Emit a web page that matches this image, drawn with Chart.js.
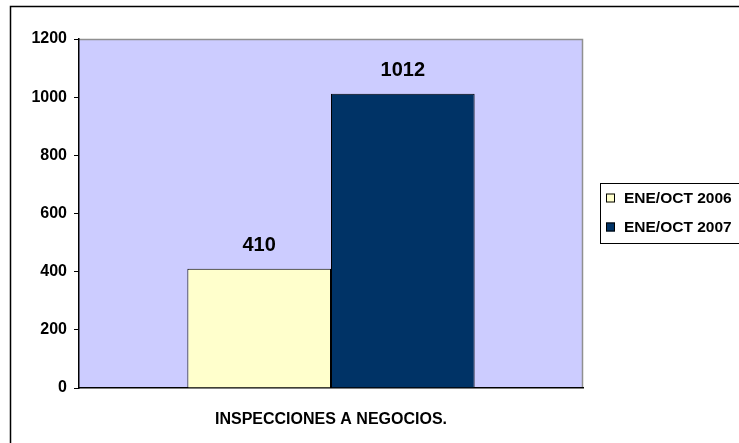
<!DOCTYPE html>
<html>
<head>
<meta charset="utf-8">
<script src="https://cdn.jsdelivr.net/npm/chart.js@4/dist/chart.umd.min.js"></script>
<style>
  html, body { margin: 0; padding: 0; background: #fff; }
  #wrap { width: 739px; height: 443px; position: relative; }
</style>
</head>
<body>
<div id="wrap"><canvas id="chart" width="739" height="443"></canvas></div>
<script>
let categories = ['INSPECCIONES A NEGOCIOS.'];
let seriesNames = ['ENE/OCT 2006', 'ENE/OCT 2007'];
let values2006 = [410];
let values2007 = [1012];
let yTicks = [0, 200, 400, 600, 800, 1000, 1200];
let seriesColors = ['#FFFFCC', '#003366'];

const FONT = '"Liberation Sans", Arial, sans-serif';

/* lavender plot background plus grey frame on top and right */
let plotBackground = {
    id: 'plotBackground',
    beforeDraw: function(chart) {
        let a = chart.chartArea, ctx = chart.ctx;
        ctx.save();
        ctx.fillStyle = '#CCCCFF';
        ctx.fillRect(a.left, a.top, a.right - a.left, a.bottom - a.top);
        ctx.strokeStyle = '#909090';
        ctx.lineWidth = 1.5;
        ctx.beginPath();
        ctx.moveTo(a.left, a.top + 0.5);
        ctx.lineTo(a.right - 0.5, a.top + 0.5);
        ctx.lineTo(a.right - 0.5, a.bottom);
        ctx.stroke();
        ctx.restore();
    }
};

/* value labels above bars, legend box and outer frame */
let extras = {
    id: 'extras',
    afterDraw: function(chart) {
        let ctx = chart.ctx;
        ctx.save();
        ctx.font = 'bold 20px ' + FONT;
        ctx.fillStyle = '#000';
        ctx.textAlign = 'center';
        ctx.textBaseline = 'middle';
        chart.data.datasets.forEach(function(ds, i) {
            chart.getDatasetMeta(i).data.forEach(function(bar, j) {
                ctx.fillText(String(ds.data[j]), bar.x, bar.y - 23);
            });
        });

        // legend
        ctx.strokeStyle = '#000';
        ctx.lineWidth = 1;
        ctx.strokeRect(600.5, 183.5, 160, 60);
        ctx.font = 'bold 15.5px ' + FONT;
        ctx.textAlign = 'left';
        chart.data.datasets.forEach(function(ds, i) {
            let y = 198 + i * 29;
            ctx.fillStyle = ds.backgroundColor;
            ctx.fillRect(606, y - 4.5, 9, 9);
            ctx.strokeRect(606.5, y - 4, 8, 8);
            ctx.fillStyle = '#000';
            ctx.fillText(ds.label, 624, y + 1);
        });

        // outer frame (right and bottom fall outside the picture)
        ctx.lineWidth = 1.5;
        ctx.beginPath();
        ctx.moveTo(10.5, 443);
        ctx.lineTo(10.5, 6.5);
        ctx.lineTo(739, 6.5);
        ctx.stroke();
        ctx.restore();
    }
};

new Chart(document.getElementById('chart'), {
    type: 'bar',
    data: {
        labels: categories,
        datasets: [{
            label: seriesNames[0],
            data: values2006,
            backgroundColor: seriesColors[0],
            borderColor: '#000',
            borderWidth: 1
        }, {
            label: seriesNames[1],
            data: values2007,
            backgroundColor: seriesColors[1],
            borderColor: '#000',
            borderWidth: 1
        }]
    },
    options: {
        responsive: false,
        animation: false,
        events: [],
        layout: { padding: { left: 0, top: 39, right: 156, bottom: 0 } },
        datasets: { bar: { barPercentage: 1, categoryPercentage: 0.57 } },
        plugins: {
            legend: { display: false },
            tooltip: { enabled: false }
        },
        scales: {
            x: {
                grid: { display: false },
                border: { display: true, color: '#000', width: 1.5 },
                ticks: { color: '#000', padding: 14, font: { family: FONT, size: 16, weight: 'bold' } },
                afterFit: function(scale) { scale.height = 55; }
            },
            y: {
                min: 0,
                max: 1200,
                afterBuildTicks: function(scale) {
                    scale.ticks = yTicks.map(function(v) { return { value: v }; });
                },
                grid: { drawOnChartArea: false, color: '#000', tickLength: 5 },
                border: { display: true, color: '#000', width: 1.5 },
                ticks: {
                    color: '#000', padding: 7,
                    font: { family: FONT, size: 16, weight: 'bold' },
                    callback: function(v) { return String(v); }
                },
                afterFit: function(scale) { scale.width = 79; }
            }
        }
    },
    plugins: [plotBackground, extras]
});
</script>
</body>
</html>
